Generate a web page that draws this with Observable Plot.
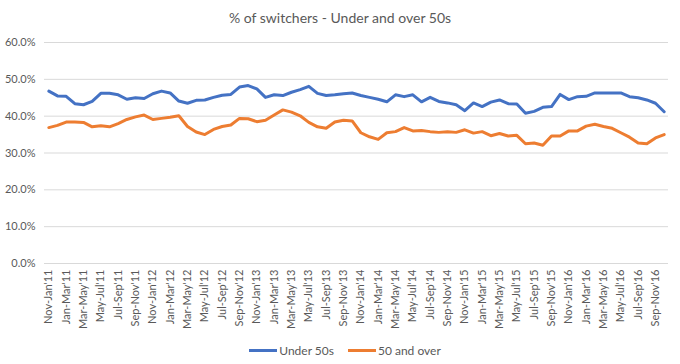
<!DOCTYPE html>
<html>
<head>
<meta charset="utf-8">
<script src="https://cdn.jsdelivr.net/npm/d3@7"></script>
<script src="https://cdn.jsdelivr.net/npm/@observablehq/plot@0.6"></script>
<style>
  html, body { margin: 0; padding: 0; background: #fff; }
  body { width: 680px; height: 364px; overflow: hidden; font-family: Lato, "Open Sans", sans-serif; color: #595959; }
  #title { height: 30px; line-height: 36px; text-align: center; font-size: 14px; color: #595959; }
  #legend { display: flex; justify-content: center; align-items: center; height: 20px; font-size: 12px; color: #595959; margin-left: 10px; }
  .item { display: flex; align-items: center; margin: 0 7px; }
  .sw { width: 28px; height: 3px; margin-right: 2px; }
</style>
</head>
<body>
<div id="title">% of switchers - Under and over 50s</div>
<div id="chart"></div>
<div id="legend"></div>
<script>
const periods = [
  "Nov-Jan'11","Dec-Feb'11","Jan-Mar'11","Feb-Apr'11","Mar-May'11","Apr-Jun'11","May-Jul'11","Jun-Aug'11","Jul-Sep'11","Aug-Oct'11","Sep-Nov'11","Oct-Dec'11",
  "Nov-Jan'12","Dec-Feb'12","Jan-Mar'12","Feb-Apr'12","Mar-May'12","Apr-Jun'12","May-Jul'12","Jun-Aug'12","Jul-Sep'12","Aug-Oct'12","Sep-Nov'12","Oct-Dec'12",
  "Nov-Jan'13","Dec-Feb'13","Jan-Mar'13","Feb-Apr'13","Mar-May'13","Apr-Jun'13","May-Jul'13","Jun-Aug'13","Jul-Sep'13","Aug-Oct'13","Sep-Nov'13","Oct-Dec'13",
  "Nov-Jan'14","Dec-Feb'14","Jan-Mar'14","Feb-Apr'14","Mar-May'14","Apr-Jun'14","May-Jul'14","Jun-Aug'14","Jul-Sep'14","Aug-Oct'14","Sep-Nov'14","Oct-Dec'14",
  "Nov-Jan'15","Dec-Feb'15","Jan-Mar'15","Feb-Apr'15","Mar-May'15","Apr-Jun'15","May-Jul'15","Jun-Aug'15","Jul-Sep'15","Aug-Oct'15","Sep-Nov'15","Oct-Dec'15",
  "Nov-Jan'16","Dec-Feb'16","Jan-Mar'16","Feb-Apr'16","Mar-May'16","Apr-Jun'16","May-Jul'16","Jun-Aug'16","Jul-Sep'16","Aug-Oct'16","Sep-Nov'16","Oct-Dec'16"
];
const under50 = [
  46.8,45.5,45.4,43.4,43.1,44.0,46.2,46.2,45.8,44.6,45.0,44.8,
  46.1,46.8,46.3,44.1,43.5,44.3,44.4,45.1,45.7,45.9,47.9,48.3,
  47.4,45.1,45.8,45.6,46.5,47.2,48.1,46.2,45.6,45.8,46.1,46.3,
  45.6,45.1,44.6,43.9,45.8,45.3,45.8,43.9,45.1,44.0,43.6,43.1,
  41.5,43.6,42.6,43.8,44.4,43.4,43.3,40.8,41.3,42.4,42.6,45.9,
  44.5,45.3,45.4,46.3,46.3,46.3,46.3,45.3,45.0,44.4,43.5,41.2
];
const over50 = [
  36.9,37.5,38.4,38.4,38.3,37.1,37.4,37.1,38.0,39.1,39.8,40.3,
  39.1,39.4,39.7,40.1,37.2,35.7,35.0,36.4,37.2,37.6,39.4,39.3,
  38.5,38.9,40.3,41.7,41.1,40.1,38.3,37.1,36.7,38.4,38.9,38.7,
  35.5,34.4,33.7,35.5,35.8,36.9,36.0,36.1,35.8,35.6,35.8,35.6,
  36.3,35.4,35.8,34.7,35.3,34.6,34.8,32.5,32.7,32.1,34.6,34.6,
  36.0,36.0,37.3,37.8,37.2,36.7,35.5,34.3,32.7,32.5,34.1,35.0
];
const tickLabels = periods.filter((d, i) => i % 2 === 0);
const yTicks = [0, 10, 20, 30, 40, 50, 60];
const seriesNames = ["Under 50s", "50 and over"];
const seriesColors = ["#4472C4", "#ED7D31"];

const rows = [];
periods.forEach((p, i) => {
  if (under50[i] != null) rows.push({period: p, value: under50[i], series: seriesNames[0]});
  if (over50[i] != null) rows.push({period: p, value: over50[i], series: seriesNames[1]});
});

const chart = Plot.plot({
  width: 680,
  height: 310,
  marginTop: 12,
  marginLeft: 44,
  marginRight: 12,
  marginBottom: 77,
  style: {fontFamily: "Lato, 'Open Sans', sans-serif", fontSize: "11px", color: "#595959", background: "#fff"},
  x: {type: "point", domain: periods, padding: 0.5, label: null},
  y: {domain: [0, 60], label: null},
  color: {domain: seriesNames, range: seriesColors},
  marks: [
    Plot.gridY(yTicks, {stroke: "#d9d9d9", strokeOpacity: 1, strokeWidth: 1}),
    Plot.axisY(yTicks, {tickSize: 0, tickPadding: 9, tickFormat: d => d.toFixed(1) + "%", fill: "#595959", fontSize: 11}),
    Plot.axisX(tickLabels, {tickSize: 0, tickPadding: 6, tickRotate: -90, fill: "#595959", fontSize: 11}),
    Plot.line(rows, {x: "period", y: "value", z: "series", stroke: "series", strokeWidth: 3, strokeLinejoin: "round", strokeLinecap: "round"})
  ]
});
document.getElementById("chart").appendChild(chart);

const legend = document.getElementById("legend");
seriesNames.forEach((n, i) => {
  const it = document.createElement("div");
  it.className = "item";
  const sw = document.createElement("div");
  sw.className = "sw";
  sw.style.background = seriesColors[i];
  const t = document.createElement("span");
  t.textContent = n;
  it.appendChild(sw); it.appendChild(t);
  legend.appendChild(it);
});
</script>
</body>
</html>
